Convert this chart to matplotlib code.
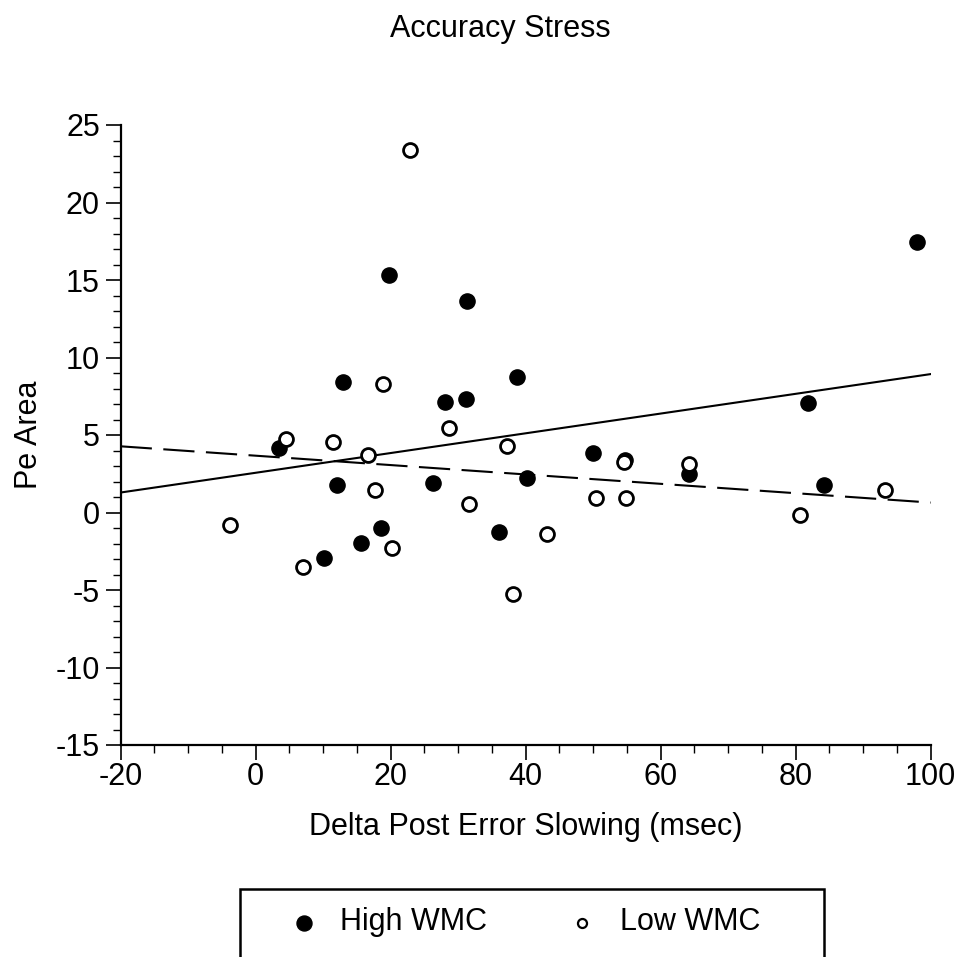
import matplotlib
matplotlib.use('Agg')
import matplotlib.pyplot as plt
from matplotlib.patches import Rectangle
from matplotlib.lines import Line2D
from matplotlib.ticker import MultipleLocator

plt.rcParams['font.family'] = ['Liberation Sans', 'DejaVu Sans']
plt.rcParams['axes.unicode_minus'] = False

# High WMC (filled)
high_x = [3.5, 12.93, 19.7, 31.35, 28.09, 31.1, 38.7, 12.0, 26.27, 18.52,
          15.64, 10.12, 36.09, 40.24, 49.97, 54.7, 64.24, 81.8, 84.24, 98.0]
high_y = [4.17, 8.41, 15.33, 13.65, 7.16, 7.31, 8.71, 1.75, 1.90, -0.97,
          -1.94, -2.93, -1.29, 2.22, 3.86, 3.39, 2.48, 7.05, 1.75, 17.46]

# Low WMC (open)
low_x = [22.86, 18.81, 28.6, 4.49, 11.5, 16.6, 37.2, 17.67, 31.56, -3.85,
         20.2, 7.05, 38.07, 43.1, 54.6, 50.37, 54.8, 64.24, 93.3, 80.6]
low_y = [23.41, 8.28, 5.46, 4.77, 4.55, 3.73, 4.27, 1.45, 0.54, -0.78,
         -2.30, -3.49, -5.28, -1.38, 3.26, 0.91, 0.91, 3.10, 1.42, -0.19]

# regression lines (end points)
fit_x = [-20, 100]
high_fit = [1.29, 8.93]
low_fit = [4.27, 0.64]

groups = ['High WMC', 'Low WMC']

W, H = 963, 957
fig = plt.figure(figsize=(W / 100, H / 100), dpi=100)
ax = fig.add_axes([120.7 / W, 1 - 745 / H, 810 / W, 620 / H])

ax.plot(fit_x, high_fit, color='black', lw=1.5, zorder=2)
ax.plot(fit_x, low_fit, color='black', lw=1.5, dashes=(15, 5.5), zorder=2)

ax.scatter(high_x, high_y, s=120, c='black', edgecolors='black', zorder=3, clip_on=False)
ax.scatter(low_x, low_y, s=100, facecolors='white', edgecolors='black',
           linewidths=2, zorder=4, clip_on=False)

ax.set_xlim(-20, 100)
ax.set_ylim(-15, 25)
ax.xaxis.set_major_locator(MultipleLocator(20))
ax.xaxis.set_minor_locator(MultipleLocator(5))
ax.yaxis.set_major_locator(MultipleLocator(5))
ax.yaxis.set_minor_locator(MultipleLocator(1))

for side in ['top', 'right']:
    ax.spines[side].set_visible(False)
for side in ['left', 'bottom']:
    ax.spines[side].set_linewidth(1.6)

ax.tick_params(which='major', direction='out', length=11, width=1.2, labelsize=22)
ax.tick_params(axis='x', which='major', pad=1)
ax.tick_params(axis='y', which='major', pad=4)
ax.tick_params(which='minor', direction='out', length=5.5, width=1.0)

ax.set_xlabel('Delta Post Error Slowing (msec)', fontsize=22, labelpad=15)
ax.set_ylabel('Pe Area', fontsize=22, labelpad=8)
fig.text(500 / W, 1 - 37 / H, 'Accuracy Stress', fontsize=22, ha='center', va='baseline')

# legend box (runs off the bottom of the figure)
fig.patches.append(Rectangle((240 / W, -0.05), (824 - 240) / W, 0.05 + 1 - 889 / H,
                             transform=fig.transFigure, fill=False, edgecolor='black',
                             linewidth=1.8))
fig.add_artist(Line2D([304 / W], [1 - 923 / H], transform=fig.transFigure, marker='o',
                      markersize=10.8, color='black', linestyle='none'))
fig.add_artist(Line2D([582 / W], [1 - 923 / H], transform=fig.transFigure, marker='o',
                      markersize=6.5, markerfacecolor='white', markeredgecolor='black',
                      markeredgewidth=1.6, linestyle='none'))
fig.text(340 / W, 1 - 930 / H, groups[0], fontsize=22, va='baseline')
fig.text(620 / W, 1 - 930 / H, groups[1], fontsize=22, va='baseline')

fig.savefig('out.png', dpi=100)
